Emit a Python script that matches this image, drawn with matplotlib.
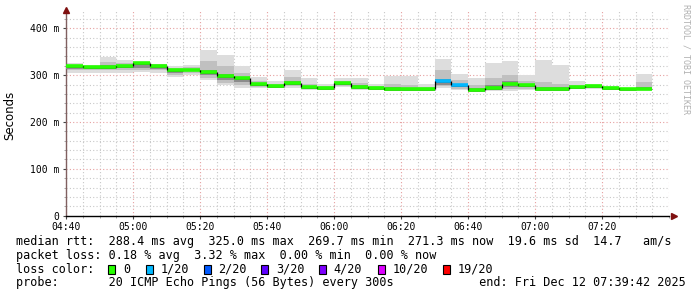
import numpy as np
import matplotlib
matplotlib.use("Agg")
import matplotlib.pyplot as plt
from matplotlib.patches import Rectangle

# ---------------- data ----------------
start_label = "04:40"
bin_minutes = 5
x_tick_labels = ["04:40", "05:00", "05:20", "05:40", "06:00", "06:20", "06:40", "07:00", "07:20"]
y_ticks = [0, 100, 200, 300, 400]
y_tick_labels = ["0", "100 m", "200 m", "300 m", "400 m"]

median = [319, 317, 318, 320, 325, 320, 311, 312, 307, 298, 294, 281, 277, 283, 274,
          273, 283, 275, 273, 271, 270, 270, 287, 278, 269, 272, 282, 278, 271, 271,
          274, 277, 272, 269.7, 271.3]
smoke_lo = [305, 305, 305, 305, 307, 305, 296, 301, 289, 278, 273, 273, 273, 273, 269,
            269, 275, 269, 269, 267, 267, 266, 273, 268, 266, 267, 267, 268, 267, 267,
            270, 270, 269, 268, 267]
smoke_hi = [325, 322, 339, 332, 327, 324, 319, 322, 353, 343, 319, 296, 287, 311, 294,
            282, 293, 295, 282, 299, 299, 281, 335, 302, 294, 325, 330, 300, 332, 321,
            287, 282, 276, 271, 303]
mid_lo = [310, 310, 310, 310, 312, 311, 300, 305, 295, 284, 279, 275, 274, 276, 270,
          270, 277, 271, 270, 268, 268, 267, 277, 271, 267, 269, 270, 271, 268, 268,
          271, 272, 270, 268, 268]
mid_hi = [322, 320, 328, 326, 326, 323, 316, 317, 330, 320, 305, 288, 282, 296, 282,
          277, 287, 284, 277, 282, 280, 275, 310, 290, 280, 295, 300, 287, 285, 282,
          280, 280, 274, 270.5, 285]
inner_lo = [314, 313, 314, 315, 316, 314, 304, 308, 300, 289, 285, 277, 275, 279, 271,
            271, 279, 272, 271, 269, 269, 268, 280, 274, 268, 270, 274, 274, 269, 269,
            272, 274, 271, 269, 269]
inner_hi = [320, 318, 321, 322, 325, 321, 312, 314, 312, 302, 297, 284, 279, 288, 277,
            275, 285, 279, 275, 274, 273, 272, 292, 282, 273, 278, 287, 282, 274, 274,
            276, 279, 273, 270.5, 275]
loss = [0, 0, 0, 0, 0, 0, 0, 0, 0, 0, 0, 0, 0, 0, 0, 0, 0, 0, 0, 0, 0, 0,
        1, 1, 0, 0, 0, 0, 0, 0, 0, 0, 0, 0, 0]

loss_labels = ["0", "1/20", "2/20", "3/20", "4/20", "10/20", "19/20"]
loss_values = [0, 1, 2, 3, 4, 10, 19]
loss_colors = ["#26ff00", "#00b8ff", "#0059ff", "#5e00ff", "#7e00ff", "#dd00ff", "#ff0000"]

stats_line1 = "median rtt:  288.4 ms avg  325.0 ms max  269.7 ms min  271.3 ms now  19.6 ms sd  14.7   am/s"
stats_line2 = "packet loss: 0.18 % avg  3.32 % max  0.00 % min  0.00 % now"
stats_line3 = "loss color:"
stats_line4 = "probe:       20 ICMP Echo Pings (56 Bytes) every 300s            end: Fri Dec 12 07:39:42 2025"
watermark = "RRDTOOL / TOBI OETIKER"
y_label = "Seconds"

# ---------------- figure ----------------
W, H = 697, 297
fig = plt.figure(figsize=(W / 100, H / 100), dpi=100)
fig.patch.set_facecolor("white")

def fx(px):
    return px / W

def fy(py):
    return 1 - py / H

ax_left, ax_right, ax_top, ax_bot = 66, 669, 9.6, 215.7
ax = fig.add_axes([fx(ax_left), fy(ax_bot), fx(ax_right - ax_left), (ax_bot - ax_top) / H])
ax.set_facecolor("white")

n = len(median)
x0 = np.arange(n) * bin_minutes
x1 = x0 + bin_minutes
total = 180
ax.set_xlim(0, total)
ax.set_ylim(0, 440)

# grid
minor_c = "#c8c8c8"
major_c = "#e6a0a0"
for xm in np.arange(0, total + 0.1, 5):
    is_major = (xm % 20 == 0)
    ax.axvline(xm, color=major_c if is_major else minor_c, lw=0.8,
               ls=(0, (1, 2)), zorder=0)
for ym in np.arange(20, 421, 20):
    is_major = (ym % 100 == 0)
    ax.axhline(ym, color=major_c if is_major else minor_c, lw=0.8,
               ls=(0, (1, 2)), zorder=0)

# smoke
for i in range(n):
    ax.fill_between([x0[i], x1[i]], smoke_lo[i], smoke_hi[i], color="#dddddd", lw=0, zorder=1)
    ax.fill_between([x0[i], x1[i]], mid_lo[i], mid_hi[i], color="#c0c0c0", lw=0, zorder=2)
    ax.fill_between([x0[i], x1[i]], inner_lo[i], inner_hi[i], color="#8c8c8c", lw=0, zorder=3)

# median line: thin black steps + thick loss-colored segments
for i in range(n):
    c = loss_colors[loss_values.index(loss[i])]
    ax.hlines(median[i], x0[i], x1[i], color=c, lw=2.6, zorder=5)
    if i > 0:
        ax.vlines(x0[i], median[i - 1], median[i], color="black", lw=0.9, zorder=6)
    ax.hlines(median[i] - 1.8, x0[i], x1[i], color="#333333", lw=0.5, zorder=4)

# axes styling
for s in ["top", "right"]:
    ax.spines[s].set_visible(False)
ax.spines["bottom"].set_color("black")
ax.spines["bottom"].set_linewidth(1.0)
ax.spines["left"].set_color("#806060")
ax.spines["left"].set_linewidth(1.0)

ax.set_xticks(np.arange(0, total, 20))
ax.set_xticklabels(x_tick_labels, family="DejaVu Sans Mono", fontsize=7.0)
ax.set_xticks(np.arange(0, total + 0.1, 5), minor=True)
ax.set_yticks(y_ticks)
ax.set_yticklabels(y_tick_labels, family="DejaVu Sans Mono", fontsize=7.0)
ax.set_yticks(np.arange(0, 421, 20), minor=True)
ax.tick_params(axis="both", which="major", length=2.5, width=0.8, color="#444444", pad=2.5)
ax.tick_params(axis="both", which="minor", length=1.5, width=0.6, color="#999999")
ax.tick_params(axis="x", which="major", pad=2.0)

# arrows
ax.plot([0], [1.0], marker="^", color="#7f1010", markersize=5, transform=ax.transAxes,
        clip_on=False, zorder=10)
ax.plot([1.008], [0], marker=">", color="#7f1010", markersize=5, transform=ax.transAxes,
        clip_on=False, zorder=10)

# y label
fig.text(fx(10), fy(115), y_label, rotation=90, ha="center", va="center",
         family="DejaVu Sans", fontsize=8.5)

# watermark
fig.text(fx(686), fy(4), watermark, rotation=-90, ha="center", va="top",
         family="DejaVu Sans Mono", fontsize=6.0, color="#b0b0b0")

# stats text
mono = dict(family="DejaVu Sans Mono", fontsize=8.45, color="black", va="center")
fig.text(fx(16), fy(241.7), stats_line1, **mono)
fig.text(fx(16), fy(255.0), stats_line2, **mono)
fig.text(fx(16), fy(269.3), stats_line3, **mono)
fig.text(fx(16), fy(282.7), stats_line4, **mono)

sq_x = [108.3, 146.0, 203.7, 261.3, 319.3, 377.7, 442.7]
for sx, lab, col in zip(sq_x, loss_labels, loss_colors):
    fig.patches.append(Rectangle((fx(sx), fy(273.5)), 7 / W, 8.5 / H, transform=fig.transFigure,
                                 facecolor=col, edgecolor="black", lw=0.8, figure=fig))
    fig.text(fx(sx + 14.5), fy(269.3), lab, **mono)

fig.savefig("out.png", dpi=100, facecolor="white")
